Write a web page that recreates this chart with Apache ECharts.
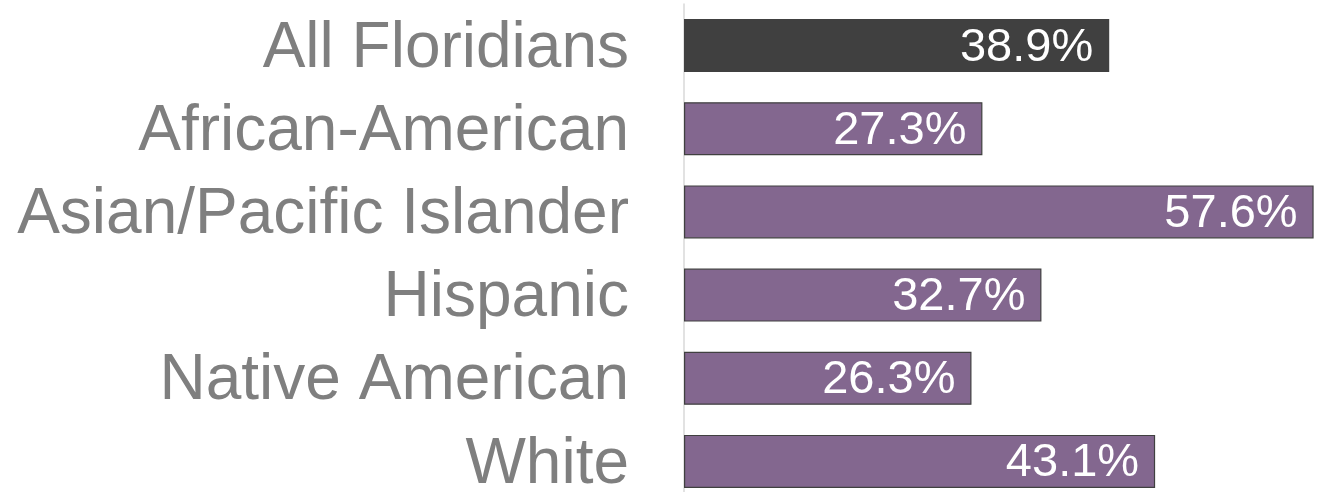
<!DOCTYPE html>
<html>
<head>
<meta charset="utf-8">
<script src="https://cdn.jsdelivr.net/npm/echarts@6/dist/echarts.min.js"></script>
<style>html,body{margin:0;padding:0;background:#fff;}#c{width:1323px;height:492px;}</style>
</head>
<body>
<div id="c"></div>
<script>
const categories = ["All Floridians", "African-American", "Asian/Pacific Islander", "Hispanic", "Native American", "White"];
const values = [38.9, 27.3, 57.6, 32.7, 26.3, 43.1];
const highlight = [true, false, false, false, false, false];

const chart = echarts.init(document.getElementById('c'), null, {renderer: 'canvas'});
const data = values.map((v, i) => ({
  value: v,
  itemStyle: highlight[i]
    ? {color: '#404040', borderColor: '#404040', borderWidth: 0}
    : {color: '#83678f', borderColor: '#404040', borderWidth: 1.2}
}));
chart.setOption({
  animation: false,
  grid: {left: 684, top: 4, width: 634, height: 499, containLabel: false, outerBoundsMode: 'none'},
  xAxis: {
    type: 'value', min: 0, max: 58,
    show: false
  },
  yAxis: {
    type: 'category', data: categories, inverse: true,
    axisLine: {show: true, lineStyle: {color: '#d9d9d9', width: 1.5}},
    axisTick: {show: false},
    axisLabel: {
      interval: 0, hideOverlap: false,
      margin: 55,
      formatter: v => '{a|' + v + '}',
      rich: {
        a: {color: '#7f7f7f', fontSize: 64, fontFamily: 'Liberation Sans, Arial, sans-serif',
            lineHeight: 64, padding: [7, 0, 0, 0]}
      }
    }
  },
  series: [{
    type: 'bar', data: data, barWidth: 53,
    label: {
      show: true, position: 'insideRight', distance: 16, offset: [0, 2],
      color: '#ffffff', fontSize: 47, fontFamily: 'Liberation Sans, Arial, sans-serif',
      formatter: p => p.value.toFixed(1) + '%'
    }
  }]
});
</script>
</body>
</html>
